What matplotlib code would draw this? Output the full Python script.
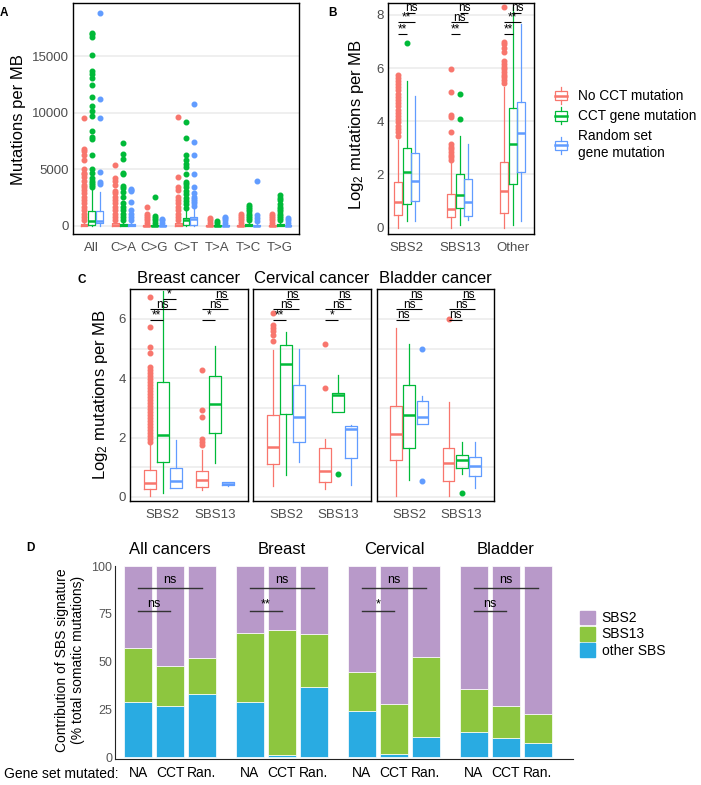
import matplotlib
matplotlib.use('Agg')
import matplotlib.pyplot as plt
from matplotlib.lines import Line2D
from matplotlib.patches import Rectangle, Patch
from matplotlib.legend_handler import HandlerBase

plt.rcParams['font.family'] = ['Liberation Sans', 'DejaVu Sans']
plt.rcParams['mathtext.default'] = 'regular'

# ---- data ----
series_names = ['No CCT mutation', 'CCT gene mutation', 'Random set\ngene mutation']
series_colors = ['#F8766D', '#00BA38', '#619CFF']

# box stats: (whisker low, q1, median, q3, whisker high)
A_categories = ['All', 'C>A', 'C>G', 'C>T', 'T>A', 'T>C', 'T>G']
A_no_cct_box = [(0, 10, 60, 200, 450), (0, 20, 80, 250, 480), (0, 10, 40, 120, 260), (0, 20, 80, 250, 480),
                (0, 10, 30, 90, 220), (0, 10, 40, 120, 260), (0, 10, 40, 120, 260)]
A_no_cct_out = [[500, 800, 1100, 1400, 1700, 2000, 2300, 2600, 2900, 3200, 3400, 3600, 4000, 4300, 4600, 4700,
                 5000, 5800, 6300, 6600, 6800, 9500],
                [500, 800, 1100, 1400, 1700, 2000, 2300, 2600, 2900, 3100, 3600, 4000, 4200, 5400],
                [300, 500, 700, 900, 1100, 1650],
                [500, 800, 1100, 1400, 1700, 2000, 2300, 2600, 3200, 3400, 4300, 9650],
                [300, 500, 700],
                [300, 500, 700, 900, 1100],
                [300, 500, 700, 900, 1100]]
A_cct_box = [(0, 100, 440, 1350, 3300), (0, 20, 60, 180, 420), (0, 10, 40, 120, 260), (0, 50, 500, 680, 1400),
             (0, 10, 30, 90, 200), (0, 20, 60, 180, 420), (0, 20, 60, 180, 420)]
A_cct_out = [[3400, 3600, 3800, 4000, 4200, 4700, 5000, 6300, 7650, 7850, 8400, 9700, 10150, 10600, 11350,
              12400, 13100, 13400, 13700, 15100, 16650, 16900, 17000],
             [500, 800, 1100, 1400, 1700, 2000, 2600, 3000, 3350, 3500, 4600, 4700, 5900, 6350, 7350],
             [300, 500, 700, 850, 2600],
             [1600, 1900, 2200, 2500, 2800, 3100, 3400, 3700, 3900, 4600, 5200, 5500, 5800, 6300, 7800, 9200],
             [300, 400],
             [500, 700, 900, 1100, 1300, 1500, 1700, 1850],
             [500, 700, 900, 1100, 1300, 1500, 1700, 1900, 2300, 2500, 2700]]
A_rand_box = [(0, 235, 470, 1350, 3030), (0, 20, 60, 200, 420), (0, 10, 30, 100, 250), (0, 50, 620, 800, 1600),
              (0, 10, 40, 120, 280), (0, 10, 40, 120, 280), (0, 10, 40, 100, 250)]
A_rand_out = [[3700, 3900, 4800, 9500, 11200, 18800],
              [500, 800, 1100, 1400, 2100, 3100, 3200, 3300],
              [300, 500, 650],
              [1800, 2000, 2200, 2400, 2600, 2900, 3400, 4560, 6270, 7380, 10740],
              [300, 500, 700, 800],
              [400, 700, 1000, 4000],
              [300, 500, 700]]

B_groups = ['SBS2', 'SBS13', 'Other']
B_no_cct_box = [(0.0, 0.49, 0.97, 1.70, 3.3), (0.0, 0.40, 0.71, 1.26, 2.43), (0.0, 0.55, 1.39, 2.45, 5.3)]
B_no_cct_out = [[3.45, 3.6, 3.72, 3.84, 3.96, 4.08, 4.2, 4.32, 4.44, 4.56, 4.68, 4.8, 4.92, 5.04, 5.16, 5.28,
                 5.4, 5.52, 5.64, 5.75],
                [2.55, 2.65, 2.75, 2.85, 2.95, 3.05, 3.15, 3.6, 4.15, 4.25, 5.1, 5.96],
                [5.45, 5.55, 5.65, 5.75, 5.85, 5.95, 6.05, 6.15, 6.25, 6.6, 6.75, 6.9, 7.0, 8.3]]
B_cct_box = [(0.26, 0.90, 2.10, 3.00, 5.50), (0.09, 0.74, 1.21, 2.01, 3.45), (0.08, 1.64, 3.15, 4.51, 8.3)]
B_cct_out = [[6.93], [4.09, 5.02], []]
B_rand_box = [(0.24, 1.02, 1.76, 2.82, 4.95), (0.27, 0.45, 0.96, 1.83, 3.15), (0.24, 2.09, 3.57, 4.74, 7.67)]
B_rand_out = [[], [], []]
# significance: (No CCT vs CCT, No CCT vs Random, CCT vs Random)
B_sig = [['**', '**', 'ns'], ['**', 'ns', 'ns'], ['**', '**', 'ns']]

C_cancers = ['Breast cancer', 'Cervical cancer', 'Bladder cancer']
C_groups = ['SBS2', 'SBS13']
C_no_cct_box = [[(0.03, 0.27, 0.46, 0.91, 1.80), (0.24, 0.35, 0.57, 0.88, 1.59)],
                [(0.37, 1.10, 1.68, 2.75, 4.97), (0.26, 0.50, 0.89, 1.64, 1.95)],
                [(0.03, 1.23, 2.13, 3.07, 5.70), (0.03, 0.55, 1.14, 1.64, 3.20)]]
C_no_cct_out = [[[1.87, 1.97, 2.07, 2.17, 2.27, 2.37, 2.47, 2.57, 2.67, 2.77, 2.87, 2.97, 3.07, 3.17, 3.27, 3.37,
                  3.47, 3.57, 3.67, 3.77, 3.87, 3.97, 4.07, 4.17, 4.27, 4.37, 4.85, 5.05, 5.73, 6.73],
                 [1.75, 1.85, 1.97, 2.71, 2.94, 4.29]],
                [[5.25, 5.45, 5.6, 5.7, 5.8, 6.2], [3.67, 5.16]],
                [[], [6.01]]]
C_cct_box = [[(0.15, 1.19, 2.09, 3.86, 6.94), (1.16, 2.15, 3.13, 4.09, 5.08)],
             [(0.74, 2.79, 4.49, 5.11, 5.56), (2.86, 2.86, 3.45, 3.50, 4.12)],
             [(0.57, 1.64, 2.77, 3.76, 5.17), (0.78, 0.99, 1.23, 1.42, 1.85)]]
C_cct_out = [[[], []], [[], [0.79]], [[], [0.12]]]
C_rand_box = [[(0.29, 0.29, 0.54, 0.99, 1.93), (0.38, 0.40, 0.45, 0.50, 0.52)],
              [(1.17, 1.87, 2.71, 3.76, 5.0), (0.40, 1.33, 2.29, 2.38, 2.43)],
              [(2.46, 2.46, 2.69, 3.22, 3.39), (0.29, 0.71, 1.06, 1.36, 1.85)]]
C_rand_out = [[[], []], [[], []], [[5.0, 0.54], []]]
C_sig = [[['**', 'ns', '*'], ['*', 'ns', 'ns']],
         [['**', 'ns', 'ns'], ['*', 'ns', 'ns']],
         [['ns', 'ns', 'ns'], ['ns', 'ns', 'ns']]]

D_groups = ['All cancers', 'Breast', 'Cervical', 'Bladder']
D_gene_sets = ['NA', 'CCT', 'Ran.']
D_other = [28.9, 26.7, 32.9, 28.9, 1.2, 36.7, 24.1, 1.9, 10.9, 13.5, 10.2, 7.6]
D_sbs13 = [28.3, 20.9, 19.1, 35.9, 65.3, 27.7, 20.4, 25.8, 41.8, 22.5, 16.6, 15.3]
D_sbs2 = [42.8, 52.4, 48.0, 35.2, 33.5, 35.6, 55.5, 72.3, 47.3, 64.0, 73.2, 77.1]
# significance: (NA vs CCT, NA vs Ran.)
D_sig = [('ns', 'ns'), ('**', 'ns'), ('*', 'ns'), ('ns', 'ns')]
D_colors = {'SBS2': '#B899C9', 'SBS13': '#8DC63F', 'other SBS': '#29ABE2'}

# ---- figure ----
W, H = 701, 785
fig = plt.figure(figsize=(W / 100, H / 100), dpi=100)


def add_ax(left, top, right, bottom):
    return fig.add_axes([left / W, 1 - bottom / H, (right - left) / W, (bottom - top) / H])


def put(x, y, s, **kw):
    fig.text(x / W, 1 - y / H, s, **kw)


def boxes(ax, pos, box, out, color, width):
    stats = [dict(whislo=b[0], q1=b[1], med=b[2], q3=b[3], whishi=b[4], fliers=o) for b, o in zip(box, out)]
    ax.bxp(stats, positions=pos, widths=width, showcaps=False, manage_ticks=False,
           boxprops=dict(color=color, lw=0.9), whiskerprops=dict(color=color, lw=0.9),
           medianprops=dict(color=color, lw=1.8),
           flierprops=dict(marker='o', markerfacecolor=color, markeredgecolor=color,
                           markersize=3.3, linestyle='none'))


def gg(ax):
    for s in ax.spines.values():
        s.set_color('black')
        s.set_linewidth(1.0)
    ax.tick_params(which='both', length=0, labelcolor='#4D4D4D', labelsize=9.5)
    ax.tick_params(axis='x', pad=6)
    ax.tick_params(axis='y', pad=3)
    ax.yaxis.grid(True, which='both', color='#EBEBEB', lw=1.1)
    ax.set_axisbelow(True)


def bracket(ax, x1, x2, y, label, fs=8.5, color='black', lw=0.8):
    ax.plot([x1, x2], [y, y], color=color, lw=lw, clip_on=False, solid_capstyle='butt')
    ax.annotate(label, ((x1 + x2) / 2, y), xytext=(0, 0.8), textcoords='offset points',
                ha='center', va='baseline', fontsize=fs, color=color, annotation_clip=False)


# panel A
axA = add_ax(73, 3, 299, 234)
xa = list(range(1, len(A_categories) + 1))
for off, box, out, c in zip([-0.25, 0, 0.25], [A_no_cct_box, A_cct_box, A_rand_box],
                            [A_no_cct_out, A_cct_out, A_rand_out], series_colors):
    boxes(axA, [x + off for x in xa], box, out, c, 0.22)
axA.set_xlim(0.4, 7.6)
axA.set_ylim(-706, 19677)
axA.set_yticks([0, 5000, 10000, 15000])
axA.set_xticks(xa)
axA.set_xticklabels(A_categories)
gg(axA)
put(19, 120, 'Mutations per MB', rotation=90, fontsize=12, ha='center', va='center')
put(0, 13, 'A', fontsize=8.5, weight='bold', va='center')

# panel B
axB = add_ax(388, 3, 534, 234)
xb = list(range(1, len(B_groups) + 1))
offB = [-0.158, 0, 0.158]
for off, box, out, c in zip(offB, [B_no_cct_box, B_cct_box, B_rand_box],
                            [B_no_cct_out, B_cct_out, B_rand_out], series_colors):
    boxes(axB, [x + off for x in xb], box, out, c, 0.15)
for x, sig in zip(xb, B_sig):
    bracket(axB, x + offB[0], x + offB[1], 7.30, sig[0])
    bracket(axB, x + offB[0], x + offB[2], 7.74, sig[1])
    bracket(axB, x + offB[1], x + offB[2], 8.09, sig[2])
axB.set_xlim(0.647, 3.40)
axB.set_ylim(-0.24, 8.45)
axB.set_yticks([0, 2, 4, 6, 8])
axB.set_xticks(xb)
axB.set_xticklabels(B_groups)
gg(axB)
put(356, 125, 'Log$_2$ mutations per MB', rotation=90, fontsize=12, ha='center', va='center')
put(328, 13, 'B', fontsize=8.5, weight='bold', va='center')


class BoxKey(HandlerBase):
    def create_artists(self, legend, orig_handle, xd, yd, w, h, fs, trans):
        c = orig_handle.get_color()
        x0, y0 = -xd, -yd
        bw = w * 0.8
        bx = x0 + (w - bw) / 2
        rect = Rectangle((bx, y0 + h * 0.1), bw, h * 0.8, fill=False, ec=c, lw=0.9, transform=trans)
        med = Line2D([bx, bx + bw], [y0 + h / 2] * 2, color=c, lw=1.8, transform=trans)
        lo = Line2D([x0 + w / 2] * 2, [y0 - h * 0.2, y0 + h * 0.1], color=c, lw=0.9, transform=trans)
        hi = Line2D([x0 + w / 2] * 2, [y0 + h * 0.9, y0 + h * 1.2], color=c, lw=0.9, transform=trans)
        return [rect, med, lo, hi]


handles = [Line2D([], [], color=c) for c in series_colors]
fig.legend(handles, series_names, handler_map={Line2D: BoxKey()}, loc='upper left',
           bbox_to_anchor=(541 / W, 1 - 77 / H), frameon=False, fontsize=9.8,
           handlelength=1.1, handleheight=1.0, handletextpad=0.7, labelspacing=0.45)

# panel C
facets = [(130, 289, 248, 501), (253.3, 289, 371, 501), (376.7, 289, 494.3, 501)]
xc = list(range(1, len(C_groups) + 1))
offC = [-0.25, 0, 0.25]
for i, name in enumerate(C_cancers):
    ax = add_ax(*facets[i])
    for off, box, out, c in zip(offC, [C_no_cct_box[i], C_cct_box[i], C_rand_box[i]],
                                [C_no_cct_out[i], C_cct_out[i], C_rand_out[i]], series_colors):
        boxes(ax, [x + off for x in xc], box, out, c, 0.23)
    for x, sig in zip(xc, C_sig[i]):
        bracket(ax, x + offC[0], x + offC[1], 5.98, sig[0])
        bracket(ax, x + offC[0], x + offC[2], 6.34, sig[1])
        bracket(ax, x + offC[1], x + offC[2], 6.68, sig[2])
    ax.set_xlim(0.37, 2.63)
    ax.set_ylim(-0.135, 7.01)
    ax.set_yticks([0, 2, 4, 6])
    ax.set_yticks([1, 3, 5], minor=True)
    ax.set_xticks(xc)
    ax.set_xticklabels(C_groups)
    ax.set_title(name, fontsize=12, pad=4)
    gg(ax)
    if i > 0:
        ax.tick_params(axis='y', labelleft=False)
put(100, 395, 'Log$_2$ mutations per MB', rotation=90, fontsize=12, ha='center', va='center')
put(77, 280, 'C', fontsize=8.5, weight='bold', va='center')

# panel D
axD = add_ax(115, 565.5, 573, 759.3)
pos = [g * 3.5 + i for g in range(len(D_groups)) for i in range(len(D_gene_sets))]
bottom13 = [o for o in D_other]
bottom2 = [o + s for o, s in zip(D_other, D_sbs13)]
axD.bar(pos, D_other, width=0.89, color=D_colors['other SBS'], edgecolor='white', lw=0.5)
axD.bar(pos, D_sbs13, width=0.89, bottom=bottom13, color=D_colors['SBS13'], edgecolor='white', lw=0.5)
axD.bar(pos, D_sbs2, width=0.89, bottom=bottom2, color=D_colors['SBS2'], edgecolor='white', lw=0.5)
for g, name in enumerate(D_groups):
    x0 = g * 3.5
    axD.text(x0 + 1, 108.8, name, ha='center', va='center', fontsize=12)
    axD.plot([x0, x0 + 1], [76.6, 76.6], color='#333333', lw=1.0)
    axD.text(x0 + 0.5, 80.0, D_sig[g][0], ha='center', va='center', fontsize=9)
    axD.plot([x0, x0 + 2], [88.7, 88.7], color='#333333', lw=1.0)
    axD.text(x0 + 1, 92.7, D_sig[g][1], ha='center', va='center', fontsize=9)
axD.set_xlim(-0.72, 13.6)
axD.set_ylim(-1, 100.3)
axD.set_yticks([0, 25, 50, 75, 100])
axD.set_xticks(pos)
axD.set_xticklabels(D_gene_sets * len(D_groups))
axD.spines['top'].set_visible(False)
axD.spines['right'].set_visible(False)
axD.spines['left'].set_color('#222222')
axD.spines['bottom'].set_color('#222222')
axD.tick_params(length=0)
axD.tick_params(axis='y', labelcolor='#555555', labelsize=9, pad=2)
axD.tick_params(axis='x', labelsize=10, pad=5)
put(70, 660, 'Contribution of SBS signature\n(% total somatic mutations)', rotation=90, fontsize=10,
    ha='center', va='center', linespacing=1.1)
put(119, 774, 'Gene set mutated:', fontsize=10, ha='right', va='center')
put(26, 548, 'D', fontsize=8.5, weight='bold', va='center')
d_handles = [Patch(color=D_colors[k]) for k in D_colors]
fig.legend(d_handles, list(D_colors), loc='upper left', bbox_to_anchor=(567 / W, 1 - 598 / H),
           frameon=False, fontsize=10, handlelength=1.15, handleheight=1.15,
           handletextpad=0.45, labelspacing=0.12)

fig.savefig('out.png', dpi=100, facecolor='white')
